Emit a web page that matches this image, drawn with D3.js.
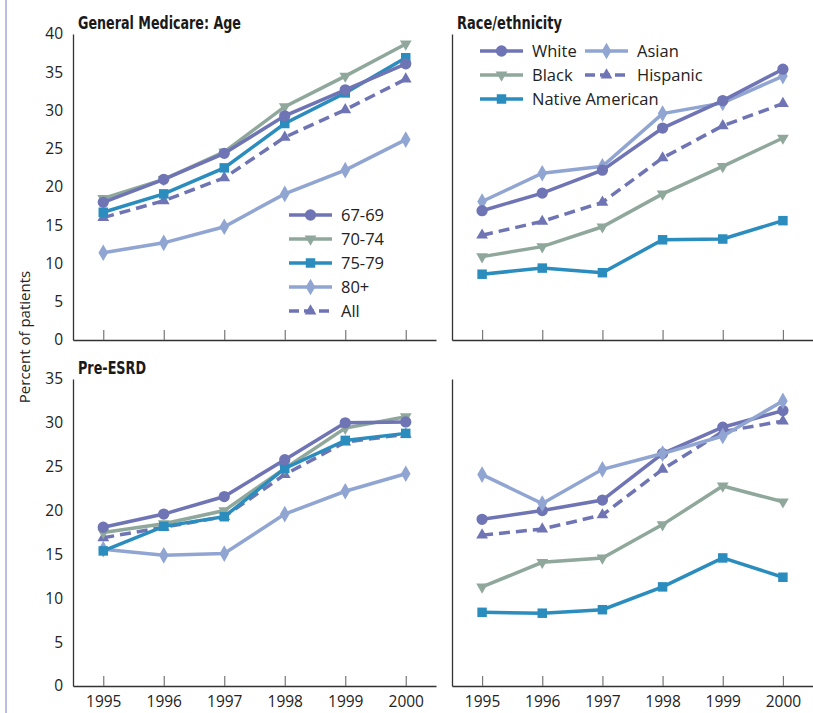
<!DOCTYPE html>
<html>
<head>
<meta charset="utf-8">
<script src="https://cdn.jsdelivr.net/npm/d3@7"></script>
<style>
  body { margin: 0; background: #fff; }
  svg { display: block; }
</style>
</head>
<body>
<script>
var years = [1995, 1996, 1997, 1998, 1999, 2000];

// General Medicare: Age
var ageNames = ["67-69", "70-74", "75-79", "80+", "All"];
var age_6769 = [18.0, 21.0, 24.4, 29.3, 32.7, 36.1];
var age_7074 = [18.5, 21.0, 24.6, 30.5, 34.5, 38.7];
var age_7579 = [16.7, 19.1, 22.5, 28.3, 32.3, 36.9];
var age_80p  = [11.4, 12.7, 14.8, 19.1, 22.2, 26.2];
var age_all  = [16.0, 18.2, 21.2, 26.5, 30.1, 34.1];

// General Medicare: Race/ethnicity
var raceNames = ["White", "Asian", "Black", "Hispanic", "Native American"];
var race_white  = [16.9, 19.2, 22.2, 27.7, 31.3, 35.4];
var race_asian  = [18.1, 21.8, 22.7, 29.6, 31.0, 34.5];
var race_black  = [10.9, 12.2, 14.8, 19.1, 22.7, 26.4];
var race_hisp   = [13.7, 15.5, 18.0, 23.8, 28.0, 30.9];
var race_native = [8.6, 9.4, 8.8, 13.1, 13.2, 15.6];

// Pre-ESRD: Age
var pre_6769 = [18.1, 19.6, 21.6, 25.8, 30.0, 30.1];
var pre_7074 = [17.5, 18.5, 20.0, 24.8, 29.4, 30.7];
var pre_7579 = [15.4, 18.2, 19.3, 24.8, 28.0, 28.8];
var pre_80p  = [15.6, 14.9, 15.1, 19.6, 22.2, 24.2];
var pre_all  = [16.9, 18.1, 19.3, 24.1, 27.8, 28.7];

// Pre-ESRD: Race/ethnicity
var preR_white  = [19.0, 20.0, 21.2, 26.5, 29.5, 31.4];
var preR_asian  = [24.1, 20.8, 24.7, 26.5, 28.5, 32.5];
var preR_black  = [11.3, 14.1, 14.6, 18.4, 22.8, 21.0];
var preR_hisp   = [17.2, 17.9, 19.5, 24.7, 29.0, 30.2];
var preR_native = [8.4, 8.3, 8.7, 11.3, 14.6, 12.4];

var topTicks = [0, 5, 10, 15, 20, 25, 30, 35, 40];
var bottomTicks = [0, 5, 10, 15, 20, 25, 30, 35];

var purple = "#6f74b4", green = "#8fa89b", teal = "#2b8cbe", light = "#91a5d2";

var styles = {
  circle:  { color: purple, sym: d3.symbolCircle, size: 100, rot: 0, dash: null },
  down:    { color: green, sym: d3.symbolTriangle, size: 60, rot: 180, dash: null },
  square:  { color: teal, sym: d3.symbolSquare, size: 90, rot: 0, dash: null },
  diamond: { color: light, sym: d3.symbolDiamond, size: 80, rot: 0, dash: null },
  dashUp:  { color: purple, sym: d3.symbolTriangle, size: 60, rot: 0, dash: "11,6" }
};

var svg = d3.select("body").append("svg")
  .attr("width", 813).attr("height", 713);

// left border rule
svg.append("line")
  .attr("x1", 6).attr("x2", 6).attr("y1", 0).attr("y2", 713)
  .attr("stroke", "#a3a8dc").attr("stroke-width", 1.5);

svg.append("text")
  .attr("transform", "translate(30,337) rotate(-90)")
  .attr("text-anchor", "middle")
  .style("font-family", "Open Sans")
  .style("font-size", "15px")
  .attr("fill", "#222")
  .text("Percent of patients");

var panels = [
  { x0: 73, x1: 436, y0: 34, y1: 340, max: 40, ticks: topTicks, yLabels: true, xLabels: false,
    title: "General Medicare: Age", titleW: 163,
    series: [
      { name: "80+", v: age_80p, st: "diamond" },
      { name: "All", v: age_all, st: "dashUp" },
      { name: "75-79", v: age_7579, st: "square" },
      { name: "70-74", v: age_7074, st: "down" },
      { name: "67-69", v: age_6769, st: "circle" }
    ] },
  { x0: 452, x1: 813, y0: 34, y1: 340, max: 40, ticks: topTicks, yLabels: false, xLabels: false,
    title: "Race/ethnicity", titleW: 105,
    series: [
      { name: "Native American", v: race_native, st: "square" },
      { name: "Black", v: race_black, st: "down" },
      { name: "Hispanic", v: race_hisp, st: "dashUp" },
      { name: "Asian", v: race_asian, st: "diamond" },
      { name: "White", v: race_white, st: "circle" }
    ] },
  { x0: 73, x1: 436, y0: 379, y1: 686, max: 35, ticks: bottomTicks, yLabels: true, xLabels: true,
    title: "Pre-ESRD", titleW: 68,
    series: [
      { name: "80+", v: pre_80p, st: "diamond" },
      { name: "All", v: pre_all, st: "dashUp" },
      { name: "70-74", v: pre_7074, st: "down" },
      { name: "75-79", v: pre_7579, st: "square" },
      { name: "67-69", v: pre_6769, st: "circle" }
    ] },
  { x0: 452, x1: 813, y0: 379, y1: 686, max: 35, ticks: bottomTicks, yLabels: false, xLabels: true,
    title: "",
    series: [
      { name: "Native American", v: preR_native, st: "square" },
      { name: "Black", v: preR_black, st: "down" },
      { name: "Hispanic", v: preR_hisp, st: "dashUp" },
      { name: "White", v: preR_white, st: "circle" },
      { name: "Asian", v: preR_asian, st: "diamond" }
    ] }
];

function marker(g, st, x, y) {
  var s = styles[st];
  g.append("path")
    .attr("d", d3.symbol().type(s.sym).size(s.size)())
    .attr("transform", "translate(" + x + "," + y + ") rotate(" + s.rot + ")")
    .attr("fill", s.color);
}

panels.forEach(function (p) {
  var g = svg.append("g");
  var x = d3.scaleLinear().domain([1994.5, 2000.5]).range([p.x0, p.x1]);
  var y = d3.scaleLinear().domain([0, p.max]).range([p.y1, p.y0]);

  // y axis
  var yAxis = d3.axisLeft(y).tickValues(p.ticks).tickSize(0).tickPadding(10)
    .tickFormat(p.yLabels ? d3.format("d") : "");
  var ya = g.append("g").attr("transform", "translate(" + p.x0 + ",0)").call(yAxis);
  ya.select(".domain").attr("stroke", "#333").attr("stroke-width", 1.3);
  ya.selectAll("text").style("font-family", "Open Sans").style("font-size", "15.5px").attr("fill", "#222");

  // x axis
  var xAxis = d3.axisBottom(x).tickValues(years).tickSizeInner(-10).tickSizeOuter(0).tickPadding(10)
    .tickFormat(p.xLabels ? d3.format("d") : "");
  var xa = g.append("g").attr("transform", "translate(0," + p.y1 + ")").call(xAxis);
  xa.select(".domain").attr("stroke", "#333").attr("stroke-width", 1.3);
  xa.selectAll(".tick line").attr("stroke", "#777").attr("stroke-width", 1.2);
  xa.selectAll("text").style("font-family", "Open Sans").style("font-size", "15.5px").attr("fill", "#222");

  if (p.title) {
    g.append("text")
      .attr("x", p.x0 + 5).attr("y", p.y0 - 5)
      .style("font-family", "DejaVu Sans Condensed")
      .style("font-weight", "bold")
      .style("font-size", "17.5px")
      .attr("textLength", p.titleW)
      .attr("lengthAdjust", "spacingAndGlyphs")
      .attr("fill", "#1a1a1a")
      .text(p.title);
  }

  var line = d3.line()
    .x(function (d, i) { return x(years[i]); })
    .y(function (d) { return y(d); });

  p.series.forEach(function (s) {
    var st = styles[s.st];
    g.append("path")
      .datum(s.v)
      .attr("d", line)
      .attr("fill", "none")
      .attr("stroke", st.color)
      .attr("stroke-width", 3.5)
      .attr("stroke-dasharray", st.dash);
    s.v.forEach(function (d, i) { marker(g, s.st, x(years[i]), y(d)); });
  });
});

// legends
function legendItem(st, name, lx, ly) {
  var s = styles[st];
  var g = svg.append("g");
  g.append("line")
    .attr("x1", lx).attr("x2", lx + 43).attr("y1", ly).attr("y2", ly)
    .attr("stroke", s.color).attr("stroke-width", 3.5)
    .attr("stroke-dasharray", s.dash ? "10,5" : null);
  marker(g, st, lx + 21.5, ly);
  g.append("text")
    .attr("x", lx + 52).attr("y", ly + 6)
    .style("font-family", "Open Sans")
    .style("font-size", "16.5px")
    .attr("fill", "#222")
    .text(name);
}

var ageLegendStyles = ["circle", "down", "square", "diamond", "dashUp"];
ageNames.forEach(function (n, i) {
  legendItem(ageLegendStyles[i], n, 289, 215 + i * 24);
});

var raceLegendStyles = ["circle", "diamond", "down", "dashUp", "square"];
raceNames.forEach(function (n, i) {
  var col = (i < 4) ? i % 2 : 0;
  var row = Math.floor(i / 2);
  legendItem(raceLegendStyles[i], n, col ? 585 : 480, 51 + row * 24);
});
</script>
</body>
</html>
